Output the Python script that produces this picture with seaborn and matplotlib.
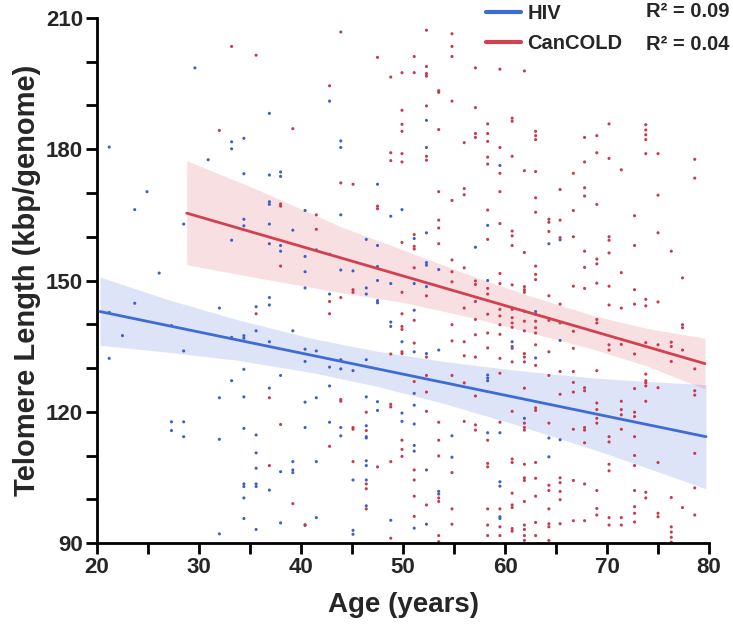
import matplotlib
matplotlib.use("Agg")
import matplotlib.pyplot as plt
import matplotlib.ticker as mticker
from matplotlib.lines import Line2D
import pandas as pd
import seaborn as sns

# HIV cohort: age (years) and telomere length (kbp/genome)
hiv_age = [29.6, 21.2, 24.9, 23.7, 28.5, 30.9, 26.1, 23.7, 21.2, 22.5,
           27.3, 21.2, 28.5, 27.3, 28.5, 27.3, 28.5, 32.0, 32.0, 32.0, 32.0,
           42.8, 36.9, 33.2, 33.2, 34.4, 43.9, 43.9, 34.4, 36.9, 38.0,
           38.0, 40.4, 43.9, 36.9, 36.9, 34.4, 34.4, 36.9, 39.2, 33.2,
           36.9, 38.0, 38.0, 41.5, 40.4, 40.4, 42.8, 43.9, 40.4, 42.8,
           36.9, 36.9, 35.6, 35.6, 39.2, 33.2, 34.4, 34.4, 36.9, 40.4,
           40.4, 41.5, 42.8, 43.9, 43.9, 34.4, 38.0, 33.2, 36.9, 34.4,
           40.4, 41.5, 42.8, 34.4, 40.4, 42.8, 43.9, 43.9, 35.6, 35.6,
           35.6, 39.2, 39.2, 39.2, 38.0, 41.5, 34.4, 34.4, 35.6, 35.6,
           36.9, 34.4, 34.4, 35.6, 38.0, 40.4, 41.5,
           52.3, 52.3, 47.5, 48.8, 49.9, 52.3, 51.1, 46.4, 47.5, 47.5,
           52.3, 52.3, 53.5, 45.1, 47.5, 48.8, 46.4, 46.4, 51.1, 52.3,
           47.5, 47.5, 48.8, 48.8, 51.1, 49.9, 51.1, 52.3, 53.5, 46.4,
           45.1, 51.1, 46.4, 47.5, 47.5, 49.9, 49.9, 51.1, 51.1, 46.4,
           46.4, 46.4, 54.8, 51.1, 51.1, 54.8, 46.4, 46.4, 52.3, 45.1,
           46.4, 53.5, 53.5, 46.4, 48.8, 52.3, 51.1, 45.1, 45.1,
           59.5, 58.3, 64.3, 65.4, 57.1, 58.3, 63.0, 65.4, 60.7, 60.7,
           63.0, 58.3, 58.3, 58.3, 61.9, 58.3, 59.5, 64.3, 65.4, 64.3,
           59.5, 59.5, 59.5, 59.5]
hiv_tl = [198.6, 180.5, 170.3, 166.2, 162.9, 177.6, 151.7, 144.8, 142.7, 137.4,
          139.7, 132.2, 133.9, 117.7, 117.7, 115.7, 114.3, 143.7, 123.2, 113.7, 92.1,
          191.0, 188.2, 181.7, 180.1, 182.5, 181.9, 180.4, 174.4, 174.1, 174.8,
          173.8, 166.0, 165.0, 168.0, 167.4, 164.0, 162.5, 162.9, 161.5, 159.2,
          158.4, 158.0, 156.7, 157.0, 155.5, 152.0, 156.0, 152.4, 148.3, 146.9,
          146.1, 144.4, 144.0, 138.5, 138.5, 137.0, 137.4, 136.8, 136.0, 134.3,
          131.5, 133.9, 130.2, 131.9, 129.8, 129.7, 128.3, 127.1, 125.4, 123.4,
          122.2, 123.2, 125.9, 116.2, 116.4, 117.6, 116.4, 114.5, 114.7, 110.6,
          107.1, 108.6, 106.7, 106.1, 106.3, 108.6, 103.5, 102.9, 103.5, 102.9,
          102.1, 100.3, 95.6, 93.1, 94.6, 94.0, 95.8,
          186.6, 180.4, 172.0, 164.7, 166.2, 160.9, 159.6, 159.4, 158.0, 153.2,
          154.1, 153.5, 152.5, 152.2, 150.0, 149.3, 148.3, 146.9, 149.3, 148.6,
          145.4, 144.9, 140.5, 139.5, 143.2, 136.0, 133.7, 133.3, 134.1, 131.9,
          129.4, 124.2, 123.4, 122.3, 120.3, 119.7, 117.8, 121.5, 117.2, 116.8,
          114.3, 114.0, 114.5, 112.3, 111.0, 109.6, 108.8, 107.7, 106.7, 104.4,
          104.4, 101.8, 101.2, 98.5, 95.2, 94.3, 93.4, 92.9, 92.0,
          176.3, 162.6, 158.4, 159.3, 157.6, 150.0, 142.9, 136.3, 136.0, 134.9,
          132.3, 128.4, 127.7, 127.1, 118.5, 115.2, 115.2, 114.0, 113.6, 109.7,
          104.0, 103.0, 96.0, 95.6]

# CanCOLD cohort
cold_age = [32.0, 33.2, 35.6, 43.9, 42.8, 39.2, 43.9, 41.5, 38.0, 38.0,
            41.5, 38.0, 43.9, 42.8, 42.8, 35.6, 36.9, 43.9, 43.9, 38.0,
            42.8, 36.9, 39.2, 40.4,
            52.3, 54.8, 54.8, 54.8, 47.5, 51.1, 48.8, 49.9, 51.1, 52.3,
            52.3, 52.3, 53.5, 53.5, 54.8, 49.9, 52.3, 49.9, 49.9, 53.5,
            56.0, 48.8, 48.8, 49.9, 49.9, 52.3, 52.3, 45.1, 53.5, 56.0,
            56.0, 54.8, 47.5, 47.5, 53.5, 53.5, 51.1, 49.9, 53.5, 51.1,
            51.1, 54.8, 51.1, 54.8, 56.0, 54.8, 45.1, 45.1, 49.9, 52.3,
            56.0, 49.9, 51.1, 49.9, 49.9, 54.8, 51.1, 54.8, 56.0, 49.9,
            49.9, 48.8, 52.3, 56.0, 52.3, 54.8, 56.0, 51.1, 52.3, 48.8,
            48.8, 46.4, 52.3, 53.5, 56.0, 45.1, 45.1, 46.4, 49.9, 49.9,
            49.9, 53.5, 53.5, 45.1, 47.5, 48.8, 51.1, 46.4, 46.4, 51.1,
            54.8, 53.5, 53.5, 51.1, 52.3, 46.4, 54.8, 51.1, 54.8, 48.8,
            53.5, 53.5,
            57.1, 59.5, 61.9, 57.1, 58.3, 58.3, 58.3, 57.1, 57.1, 60.7,
            60.7, 59.5, 63.0, 63.0, 63.0, 67.8, 58.3, 58.3, 59.5, 60.7,
            61.9, 63.0, 67.8, 66.7, 59.5, 65.4, 67.8, 67.8, 63.0, 58.3,
            59.5, 63.0, 64.3, 64.3, 65.4, 66.7, 60.7, 60.7, 60.7, 58.3,
            64.3, 65.4, 66.7, 61.9, 67.8, 63.0, 63.0, 63.0, 67.8, 59.5,
            57.1, 57.1, 58.3, 58.3, 59.5, 60.7, 61.9, 61.9, 61.9, 66.7,
            67.8, 64.3, 57.1, 65.4, 59.5, 59.5, 59.5, 58.3, 60.7, 60.7,
            60.7, 60.7, 61.9, 61.9, 63.0, 63.0, 63.0, 63.0, 64.3, 65.4,
            66.7, 57.1, 57.1, 58.3, 59.5, 61.9, 58.3, 60.7, 63.0, 61.9,
            61.9, 61.9, 59.5, 60.7, 64.3, 63.0, 66.7, 57.1, 64.3, 65.4,
            66.7, 59.5, 66.7, 66.7, 67.8, 67.8, 61.9, 57.1, 65.4, 63.0,
            63.0, 60.7, 61.9, 61.9, 61.9, 59.5, 64.3, 66.7, 67.8, 67.8,
            57.1, 57.1, 58.3, 67.8, 58.3, 58.3, 60.7, 60.7, 61.9, 63.0,
            61.9, 61.9, 63.0, 65.4, 65.4, 66.7, 67.8, 64.3, 64.3, 60.7,
            63.0, 65.4, 65.4, 61.9, 60.7, 60.7, 58.3, 59.5, 64.3, 59.5,
            59.5, 58.3, 58.3, 60.7, 60.7, 61.9, 61.9, 61.9, 61.9, 63.0,
            63.0, 64.3, 64.3, 64.3, 66.7, 67.8, 65.4,
            69.0, 69.0, 70.2, 70.2, 73.8, 73.8, 73.8, 73.8, 73.8, 75.0,
            71.4, 78.6, 78.6, 69.0, 72.7, 75.0, 70.2, 70.2, 75.0, 72.7,
            70.2, 76.3, 69.0, 69.0, 71.4, 77.4, 69.0, 70.2, 72.7, 73.8,
            73.8, 75.0, 72.7, 70.2, 71.4, 69.0, 69.0, 77.4, 77.4, 70.2,
            70.2, 71.4, 73.8, 75.0, 76.3, 76.3, 77.4, 72.7, 76.3, 78.6,
            69.0, 73.8, 73.8, 73.8, 73.8, 72.7, 75.0, 78.6, 78.6, 71.4,
            71.4, 71.4, 69.0, 69.0, 73.8, 72.7, 72.7, 69.0, 69.0, 71.4,
            70.2, 70.2, 72.7, 78.6, 72.7, 75.0, 72.7, 70.2, 70.2, 78.6,
            69.0, 72.7, 73.8, 73.8, 76.3, 69.0, 69.0, 72.7, 72.7, 77.4,
            78.6, 70.2, 70.2, 71.4, 71.4, 72.7, 75.0, 75.0, 76.3, 76.3,
            76.3, 76.3]
cold_tl = [184.3, 203.5, 201.5, 206.8, 194.5, 184.7, 172.3, 165.0, 167.5, 167.0,
           161.7, 153.3, 146.1, 145.2, 142.4, 142.4, 123.2, 122.8, 122.4, 117.1,
           112.1, 107.7, 99.0, 94.2,
           207.2, 206.4, 203.5, 201.2, 201.0, 201.2, 196.5, 197.5, 197.5, 198.9,
           197.3, 196.7, 193.4, 193.0, 191.0, 188.9, 189.9, 185.7, 184.1, 184.5,
           181.5, 179.2, 177.4, 179.0, 177.1, 178.4, 177.5, 172.0, 170.3, 171.0,
           169.6, 168.3, 167.0, 166.4, 163.8, 162.0, 160.5, 158.7, 158.4, 157.8,
           157.2, 154.7, 152.9, 152.0, 152.9, 149.7, 147.9, 147.3, 147.3, 146.5,
           143.7, 142.4, 140.9, 139.5, 138.8, 139.9, 135.7, 136.2, 136.0, 133.7,
           133.3, 133.2, 132.5, 132.8, 128.3, 128.3, 126.6, 126.9, 124.5, 121.7,
           121.1, 119.9, 120.1, 117.6, 117.8, 116.4, 116.0, 115.7, 113.5, 111.4,
           109.8, 113.5, 109.9, 108.6, 107.4, 108.6, 106.7, 103.5, 102.4, 104.4,
           106.1, 100.3, 99.5, 100.7, 98.7, 97.8, 97.8, 96.1, 94.3, 91.1,
           91.7, 90.3,
           198.6, 198.3, 197.9, 189.5, 185.8, 183.6, 181.8, 183.6, 182.7, 187.1,
           186.4, 180.4, 184.1, 183.1, 182.2, 182.7, 178.2, 176.6, 174.5, 178.4,
           175.1, 174.9, 177.1, 174.5, 170.3, 170.8, 171.2, 169.3, 168.9, 166.1,
           163.0, 165.6, 164.0, 163.3, 163.8, 166.0, 161.3, 160.2, 158.0, 159.4,
           161.2, 159.8, 160.0, 156.4, 156.7, 153.3, 151.4, 150.2, 153.0, 151.6,
           149.9, 149.1, 148.2, 146.9, 149.3, 149.0, 148.6, 147.9, 147.3, 148.7,
           148.2, 146.5, 145.2, 144.6, 143.4, 141.9, 139.9, 142.3, 143.4, 141.5,
           140.3, 139.3, 143.0, 140.7, 142.3, 140.7, 139.2, 138.0, 140.9, 140.3,
           138.4, 141.1, 137.6, 138.0, 137.7, 138.5, 134.6, 134.5, 135.3, 133.3,
           132.5, 131.4, 132.2, 131.4, 133.7, 130.6, 134.5, 132.5, 128.3, 129.2,
           129.2, 128.8, 126.7, 124.5, 125.5, 124.8, 125.4, 123.6, 124.0, 120.9,
           120.3, 120.1, 117.4, 116.4, 115.8, 117.6, 117.4, 116.0, 116.4, 115.8,
           117.0, 115.8, 113.5, 112.9, 108.2, 107.4, 109.2, 108.4, 108.0, 108.4,
           104.9, 104.3, 104.8, 104.9, 103.8, 104.3, 103.5, 103.2, 102.0, 101.4,
           100.7, 101.8, 99.9, 99.5, 98.7, 98.1, 97.8, 97.8, 97.8, 93.7,
           91.7, 94.1, 91.7, 93.3, 92.7, 94.1, 93.1, 91.7, 90.6, 94.7,
           91.7, 94.4, 93.7, 90.6, 95.1, 95.1, 94.4,
           183.1, 179.2, 185.8, 177.9, 185.6, 184.4, 183.3, 182.2, 179.0, 179.0,
           175.3, 177.7, 173.4, 167.4, 164.8, 169.5, 160.0, 159.2, 160.9, 158.0,
           156.3, 156.7, 154.9, 153.8, 151.8, 150.6, 149.4, 148.7, 147.9, 145.7,
           144.2, 145.1, 144.6, 144.4, 143.7, 141.1, 140.3, 139.9, 139.2, 135.3,
           134.1, 135.4, 135.8, 135.3, 135.9, 134.9, 134.1, 133.2, 131.5, 129.8,
           129.4, 128.6, 127.1, 126.6, 125.9, 125.3, 125.5, 124.8, 123.8, 122.4,
           120.5, 119.3, 122.0, 120.5, 122.4, 119.9, 118.9, 118.5, 117.4, 116.0,
           114.3, 113.1, 114.3, 110.5, 110.0, 108.4, 107.7, 108.0, 106.5, 102.6,
           102.0, 102.0, 101.6, 100.3, 100.4, 97.9, 96.4, 98.3, 96.8, 98.1,
           96.4, 95.8, 94.1, 95.8, 94.1, 94.8, 96.8, 96.0, 93.7, 92.5,
           91.3, 90.2]

# fitted lines and confidence bands
hiv_fit_age = [20.3, 79.7]
hiv_fit_tl = [142.9, 114.3]
hiv_band_age = [20.3, 27, 34, 41, 47.3, 54, 61, 68.8, 74, 79.7]
hiv_band_hi = [150.8, 145.6, 140.9, 136.8, 133.9, 131.5, 129.5, 127.7, 126.9, 126.2]
hiv_band_lo = [135.2, 133.6, 131.7, 129.0, 125.9, 121.9, 117.1, 111.3, 107.1, 102.4]

cold_fit_age = [28.8, 79.6]
cold_fit_tl = [165.4, 131.0]
cold_band_age = [28.8, 36, 44, 50, 56.6, 62, 68.8, 74, 79.6]
cold_band_hi = [177.4, 170.5, 162.2, 157.0, 151.2, 146.8, 141.9, 139.0, 136.8]
cold_band_lo = [153.6, 150.5, 147.2, 145.0, 141.6, 138.4, 134.2, 130.4, 125.2]

groups = ["HIV", "CanCOLD"]
r2_labels = ["R\u00b2 = 0.09", "R\u00b2 = 0.04"]

blue_line = "#3d6cd6"
red_line = "#d2414f"
dot_colors = {"HIV": "#3f5fc8", "CanCOLD": "#c93a4d"}

sns.set_style("ticks")
plt.rcParams["font.family"] = ["Liberation Sans", "DejaVu Sans"]
plt.rcParams["font.weight"] = "bold"

df = pd.concat([
    pd.DataFrame({"age": hiv_age, "tl": hiv_tl, "group": "HIV"}),
    pd.DataFrame({"age": cold_age, "tl": cold_tl, "group": "CanCOLD"}),
], ignore_index=True)

fig = plt.figure(figsize=(7.33, 6.29), dpi=100)
ax = fig.add_axes([0.1323, 0.1367, 0.835, 0.8347])

# confidence bands
ax.fill_between(hiv_band_age, hiv_band_lo, hiv_band_hi, color="#4a6bd8", alpha=0.18, lw=0, zorder=1)
ax.fill_between(cold_band_age, cold_band_lo, cold_band_hi, color="#d9515c", alpha=0.18, lw=0, zorder=1)

# individual subjects
sns.scatterplot(data=df, x="age", y="tl", hue="group", palette=dot_colors,
                s=5, linewidth=0, legend=False, ax=ax, zorder=2)

# regression lines
sns.lineplot(x=hiv_fit_age, y=hiv_fit_tl, color=blue_line, lw=2, ax=ax, zorder=3)
sns.lineplot(x=cold_fit_age, y=cold_fit_tl, color=red_line, lw=2, ax=ax, zorder=3)

ax.set_xlim(20, 80)
ax.set_ylim(90, 210)
ax.xaxis.set_major_locator(mticker.MultipleLocator(10))
ax.xaxis.set_minor_locator(mticker.MultipleLocator(5))
ax.yaxis.set_major_locator(mticker.MultipleLocator(30))
ax.yaxis.set_minor_locator(mticker.MultipleLocator(10))
ax.tick_params(which="both", direction="out", length=8, width=2, color="black",
               labelsize=16, pad=2)
for lab in ax.get_xticklabels() + ax.get_yticklabels():
    lab.set_fontweight("bold")

sns.despine(ax=ax)
for side in ["left", "bottom"]:
    ax.spines[side].set_linewidth(2)
    ax.spines[side].set_color("black")

ax.set_xlabel("Age (years)", fontsize=20, fontweight="bold")
ax.set_ylabel("Telomere Length (kbp/genome)", fontsize=21, fontweight="bold")
ax.xaxis.label.set_va("center")
ax.yaxis.label.set_va("center")
ax.xaxis.set_label_coords(0.5, -0.118)
ax.yaxis.set_label_coords(-0.114, 0.5)

# legend with R² values
handles = [Line2D([0], [0], color=blue_line, lw=3),
           Line2D([0], [0], color=red_line, lw=3)]
ax.legend(handles, groups, loc="center left", bbox_to_anchor=(486 / 733, 1 - 28.5 / 629),
          bbox_transform=fig.transFigure, frameon=False, borderpad=0, borderaxespad=0,
          handlelength=1.75, handletextpad=0.3, labelspacing=0.55,
          prop={"size": 14.5, "weight": "bold"})
for i, txt in enumerate(r2_labels):
    fig.text(646 / 733, 1 - (11.7 + 33.3 * i) / 629, txt, ha="left", va="center",
             fontsize=14.5, fontweight="bold")

fig.savefig("out.png", dpi=100)
